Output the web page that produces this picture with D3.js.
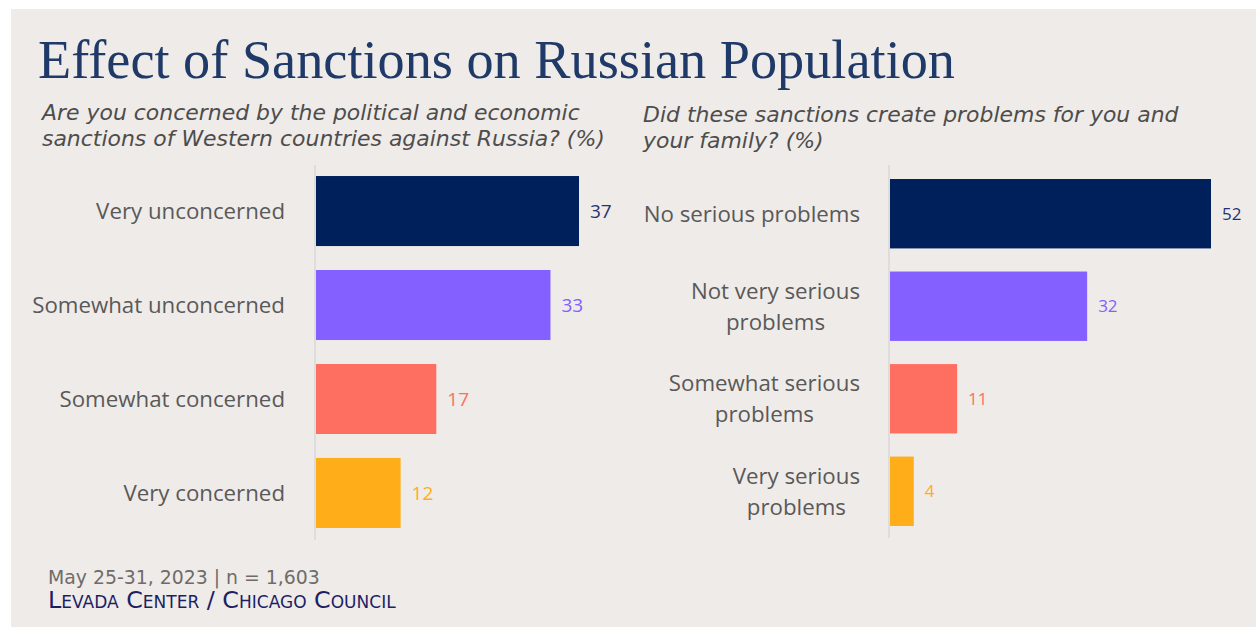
<!DOCTYPE html>
<html>
<head>
<meta charset="utf-8">
<script src="https://cdn.jsdelivr.net/npm/d3@7"></script>
<style>
  html, body { margin: 0; padding: 0; background: #ffffff; }
  svg { display: block; }
</style>
</head>
<body>
<svg id="chart" width="1256" height="627"></svg>
<script>
// ---- Data ----
const leftCategories = ["Very unconcerned", "Somewhat unconcerned", "Somewhat concerned", "Very concerned"];
const leftValues = [37, 33, 17, 12];
const rightCategories = [["No serious problems"], ["Not very serious", "problems"], ["Somewhat serious", "problems"], ["Very serious", "problems"]];
const rightValues = [52, 32, 11, 4];
const barColors = ["#00205b", "#8360ff", "#ff6f61", "#ffad18"];
const labelColors = ["#1f3470", "#8360ff", "#ff6f61", "#ffad18"];
const titleText = "Effect of Sanctions on Russian Population";
const leftQuestion = ["Are you concerned by the political and economic", "sanctions of Western countries against Russia? (%)"];
const rightQuestion = ["Did these sanctions create problems for you and", "your family? (%)"];
const footerDate = "May 25-31, 2023 | n = 1,603";
const footerSource = "Levada Center / Chicago Council";

const svg = d3.select("#chart");
svg.append("rect").attr("x", 11).attr("y", 9).attr("width", 1245).attr("height", 618).attr("fill", "#efebe8");

function fitText(sel, target) {
  const w = sel.node().getComputedTextLength();
  const fs = parseFloat(sel.attr("font-size"));
  sel.attr("font-size", fs * target / w);
  return fs * target / w;
}

// Title
const title = svg.append("text").attr("x", 38).attr("y", 78)
  .attr("font-family", "'Liberation Serif', 'Times New Roman', serif")
  .attr("font-size", 50).attr("fill", "#1f3a68").text(titleText);
fitText(title, 917);

// Questions
const qFont = "'DejaVu Sans', 'Noto Sans', sans-serif";
const qL1 = svg.append("text").attr("x", 42).attr("y", 120)
  .attr("font-family", qFont).attr("font-style", "italic").attr("font-size", 18)
  .attr("fill", "#4d4d4d").text(leftQuestion[0]);
const qSize = fitText(qL1, 538);
svg.append("text").attr("x", 42).attr("y", 146)
  .attr("font-family", qFont).attr("font-style", "italic").attr("font-size", qSize)
  .attr("fill", "#4d4d4d").text(leftQuestion[1]);
rightQuestion.forEach((l, i) => {
  svg.append("text").attr("x", 643).attr("y", 122 + i * 26)
    .attr("font-family", qFont).attr("font-style", "italic").attr("font-size", qSize)
    .attr("fill", "#4d4d4d").text(l);
});

const catFont = "'Open Sans', Lato, sans-serif";
// size category labels so the widest matches the reference width
const probe = svg.append("text").attr("font-family", catFont).attr("font-size", 20).text("Somewhat unconcerned");
const catSize = fitText(probe, 253);
probe.remove();

// Left chart
const yL = d3.scaleBand().domain(leftCategories).range([164, 540]).paddingInner(0.255).paddingOuter(0.128);
const xL = d3.scaleLinear().domain([0, d3.max(leftValues)]).range([315, 579]);
const gL = svg.append("g");
gL.append("line").attr("x1", xL(0)).attr("x2", xL(0)).attr("y1", 165).attr("y2", 540)
  .attr("stroke", "#d9d9d9").attr("stroke-width", 1.5);
gL.selectAll("rect.bar").data(leftValues).join("rect")
  .attr("x", xL(0) + 1).attr("y", (d, i) => yL(leftCategories[i]))
  .attr("width", d => xL(d) - xL(0) - 1).attr("height", yL.bandwidth())
  .attr("fill", (d, i) => barColors[i]);
gL.selectAll("text.cat").data(leftCategories).join("text")
  .attr("x", 285).attr("y", d => yL(d) + yL.bandwidth() / 2).attr("dy", "0.35em")
  .attr("text-anchor", "end").attr("font-family", catFont).attr("font-size", catSize)
  .attr("fill", "#595959").text(d => d);
gL.selectAll("text.val").data(leftValues).join("text")
  .attr("x", d => xL(d) + 11).attr("y", (d, i) => yL(leftCategories[i]) + yL.bandwidth() / 2).attr("dy", "0.35em")
  .attr("font-family", catFont).attr("font-size", 19)
  .attr("fill", (d, i) => labelColors[i]).text(d => d);

// Right chart
const rKeys = rightCategories.map(d => d.join(" "));
const yR = d3.scaleBand().domain(rKeys).range([167, 538]).paddingInner(0.25).paddingOuter(0.13);
const xR = d3.scaleLinear().domain([0, d3.max(rightValues)]).range([889, 1211]);
const gR = svg.append("g");
gR.append("line").attr("x1", xR(0)).attr("x2", xR(0)).attr("y1", 165).attr("y2", 538)
  .attr("stroke", "#d9d9d9").attr("stroke-width", 1.5);
gR.selectAll("rect.bar").data(rightValues).join("rect")
  .attr("x", xR(0) + 1).attr("y", (d, i) => yR(rKeys[i]))
  .attr("width", d => xR(d) - xR(0) - 1).attr("height", yR.bandwidth())
  .attr("fill", (d, i) => barColors[i]);
rightCategories.forEach((lines, i) => {
  const cy = yR(rKeys[i]) + yR.bandwidth() / 2;
  const n = lines.length;
  const texts = lines.map((l, j) => gR.append("text")
    .attr("y", cy + (j - (n - 1) / 2) * 31).attr("dy", "0.35em")
    .attr("text-anchor", "middle").attr("font-family", catFont).attr("font-size", catSize)
    .attr("fill", "#595959").text(l));
  const maxW = d3.max(texts, t => t.node().getComputedTextLength());
  texts.forEach(t => t.attr("x", 860 - maxW / 2));
});
gR.selectAll("text.val").data(rightValues).join("text")
  .attr("x", d => xR(d) + 11).attr("y", (d, i) => yR(rKeys[i]) + yR.bandwidth() / 2).attr("dy", "0.35em")
  .attr("font-family", catFont).attr("font-size", 17)
  .attr("fill", (d, i) => labelColors[i]).text(d => d);

// Footer
const fd = svg.append("text").attr("x", 48).attr("y", 584)
  .attr("font-family", "'DejaVu Sans', 'Noto Sans', sans-serif").attr("font-size", 17)
  .attr("fill", "#6f6b6a").text(footerDate);
fitText(fd, 272);
const fs = svg.append("text").attr("x", 48).attr("y", 608)
  .attr("font-family", "'DejaVu Sans', 'Noto Sans', sans-serif").attr("font-size", 17)
  .attr("font-variant", "small-caps").attr("fill", "#1c1f66").text(footerSource);
fitText(fs, 345);
</script>
</body>
</html>
